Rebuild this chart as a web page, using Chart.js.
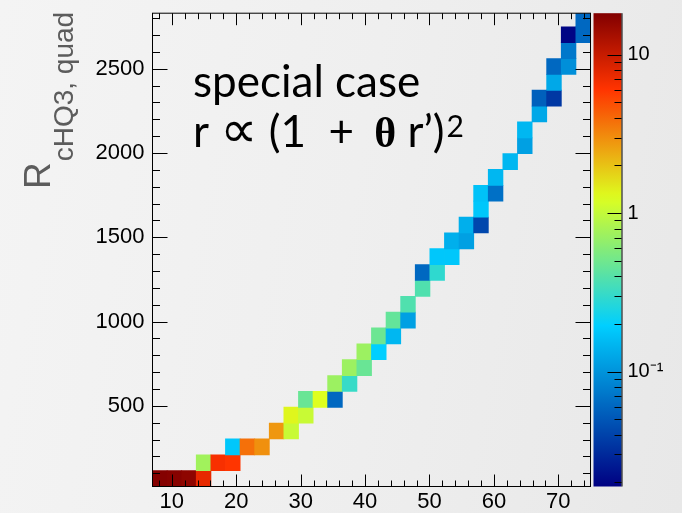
<!DOCTYPE html>
<html><head><meta charset="utf-8">
<script src="https://cdn.jsdelivr.net/npm/chart.js@4.4.0/dist/chart.umd.min.js"></script>
<style>
html,body{margin:0;padding:0;width:682px;height:513px;overflow:hidden;
background:linear-gradient(100deg,#f4f4f4 0%,#efefef 50%,#e8e8e8 100%);}
canvas{display:block;}
</style></head><body>
<canvas id="c" width="682" height="513"></canvas>
<script>
// ---- axis ranges / binning ----
const xMin = 7, xMax = 75, nBinsX = 30;
const yMin = 22, yMax = 2829, yBinWidth = 94;
const zMin = 0.0188, zMax = 18.3;

// ---- tick labels ----
const xTickLabels = [10, 20, 30, 40, 50, 60, 70];
const yTickLabels = [500, 1000, 1500, 2000, 2500];
const zTickLabels = [0.1, 1, 10];

// ---- filled cells: x-bin index, y-bin index, content ----
const cellCol = [0, 1, 2, 3,  3, 4, 5,  5, 6, 7,  8, 9,  9, 10,  10, 11, 12,  12, 13,  13, 14,  14, 15,
                 15, 16,  16, 17,  17,  18,  18, 19,  19, 20,  20, 21,  21, 22,  22,  22, 23,  23,  24,  25,  25,
                 26,  26, 27,  27,  27, 28,  28,  28, 29,  29];
const cellRow = [0, 0, 0, 0,  1, 1, 1,  2, 2, 2,  3, 3,  4, 4,  5, 5, 5,  6, 6,  7, 7,  8, 8,
                 9, 9,  10, 10,  11,  12,  13, 13,  14, 14,  15, 15,  16, 16,  17,  18, 18,  19,  20,  21,  22,
                 23,  24, 24,  25,  26, 26,  27,  28, 28,  29];
const cellZ   = [18, 17.5, 16.5, 7.5,  0.75, 6.5, 6.0,  0.18, 3.8, 2.95,  2.8, 1.04,  1.34, 1.04,  0.47, 1.25, 0.061,
                 0.72, 0.31,  0.72, 0.47,  0.72, 0.195,  0.48, 0.15,  0.45, 0.115,  0.38,  0.38,  0.061, 0.29,
                 0.18, 0.18,  0.137, 0.115,  0.137, 0.042,  0.18,  0.17, 0.067,  0.15,  0.15,  0.115,  0.15,
                 0.126,  0.056, 0.035,  0.126,  0.061, 0.095,  0.073,  0.02, 0.061,  0.061];

// ---- colour palette (ROOT rainbow-like) ----
const palStops = [0.00, 0.34, 0.61, 0.84, 1.00];
const palR = [0.00, 0.00, 0.87, 1.00, 0.51];
const palG = [0.00, 0.81, 1.00, 0.20, 0.00];
const palB = [0.51, 1.00, 0.12, 0.00, 0.00];

function palColor(t) {
  t = Math.max(0, Math.min(1, t));
  let i = 0;
  while (i < palStops.length - 2 && t > palStops[i + 1]) i++;
  const f = (t - palStops[i]) / (palStops[i + 1] - palStops[i]);
  const c = a => Math.round(255 * (a[i] + f * (a[i + 1] - a[i])));
  return `rgb(${c(palR)},${c(palG)},${c(palB)})`;
}
function zColor(z) {
  const t = (Math.log10(z) - Math.log10(zMin)) / (Math.log10(zMax) - Math.log10(zMin));
  return palColor(t);
}

const xBinWidth = (xMax - xMin) / nBinsX;
const cellData = cellCol.map((c, k) => ({
  x: xMin + (c + 0.5) * xBinWidth,
  y: [yMin + cellRow[k] * yBinWidth, yMin + (cellRow[k] + 1) * yBinWidth]
}));
const cellColors = cellZ.map(zColor);

const FONT = '"Liberation Sans", Arial, sans-serif';

const decor = {
  id: 'decor',
  afterDatasetsDraw(chart) {
    const ctx = chart.ctx;
    const a = chart.chartArea;
    const xs = chart.scales.x, ys = chart.scales.y, zs = chart.scales.z;
    ctx.save();
    ctx.strokeStyle = '#000';
    ctx.lineWidth = 1;
    // x ticks (bottom & top, inward)
    ctx.beginPath();
    for (let v = 8; v <= xMax; v += 2) {
      const px = Math.round(xs.getPixelForValue(v)) + 0.5;
      const major = v % 10 === 0;
      const L = major ? 12 : 6;
      ctx.moveTo(px, a.bottom); ctx.lineTo(px, a.bottom - L);
      ctx.moveTo(px, a.top); ctx.lineTo(px, a.top + L);
    }
    // y ticks (left & right, inward)
    for (let v = 100; v <= yMax; v += 100) {
      const py = Math.round(ys.getPixelForValue(v)) + 0.5;
      const major = v % 500 === 0;
      const L = major ? 15 : 7.5;
      ctx.moveTo(a.left, py); ctx.lineTo(a.left + L, py);
      ctx.moveTo(a.right, py); ctx.lineTo(a.right - L, py);
    }
    ctx.stroke();
    // frame
    ctx.strokeRect(a.left, a.top, a.right - a.left, a.bottom - a.top);

    // colour bar
    const bx0 = a.right + 3, bx1 = a.right + 31;
    const g = ctx.createLinearGradient(0, zs.bottom, 0, zs.top);
    for (let t = 0; t <= 1.0001; t += 0.02) g.addColorStop(Math.min(1, t), palColor(t));
    ctx.fillStyle = g;
    ctx.fillRect(bx0, zs.top, bx1 - bx0, zs.bottom - zs.top);
    ctx.beginPath();
    ctx.moveTo(bx1 + 0.5, zs.top); ctx.lineTo(bx1 + 0.5, zs.bottom);
    for (let e = -2; e <= 1; e++) {
      for (let m = 1; m <= 9; m++) {
        const v = m * Math.pow(10, e);
        if (v < zMin || v > zMax) continue;
        const py = Math.round(zs.getPixelForValue(v)) + 0.5;
        const L = m === 1 ? 14 : 7;
        ctx.moveTo(bx1, py); ctx.lineTo(bx1 - L, py);
      }
    }
    ctx.stroke();

    // annotation text
    ctx.fillStyle = '#000';
    ctx.textBaseline = 'alphabetic';
    ctx.textAlign = 'left';
    const mainFont = '44px Lato, "DejaVu Sans", sans-serif';
    ctx.font = mainFont;
    ctx.fillText('special case', 193, 97);
    let x = 193; const yb = 147;
    const seg = (txt, font, dy) => { ctx.font = font; ctx.fillText(txt, x, yb + (dy || 0)); x += ctx.measureText(txt).width; };
    seg('r ', mainFont);
    seg('\u221D', '52px "DejaVu Sans", sans-serif');
    seg(' (1  + ', mainFont);
    x += 9;
    seg('\u03B8', 'bold 42px "Liberation Serif", serif');
    seg(' r\u2019)', mainFont);
    x += 2;
    seg('2', '30px Lato, sans-serif', -10);

    // y axis title (rotated)
    ctx.fillStyle = '#5c5c5c';
    ctx.save();
    ctx.translate(50, 189);
    ctx.rotate(-Math.PI / 2);
    ctx.font = '37px ' + FONT;
    ctx.fillText('R', 0, 0);
    const rw = ctx.measureText('R').width;
    ctx.font = '28px ' + FONT;
    ctx.fillText('cHQ3, quad', rw + 1, 23);
    ctx.restore();
    ctx.restore();
  }
};

new Chart(document.getElementById('c'), {
  type: 'bar',
  data: {
    datasets: [{
      data: cellData,
      backgroundColor: cellColors,
      borderWidth: 0,
      barPercentage: 1,
      categoryPercentage: 1,
      inflateAmount: 0.4,
      clip: 0
    }]
  },
  options: {
    responsive: false,
    animation: false,
    devicePixelRatio: 1,
    layout: { padding: { top: 12.5, left: 0, right: 0, bottom: 0 } },
    plugins: { legend: { display: false }, tooltip: { enabled: false } },
    scales: {
      x: {
        type: 'linear', min: xMin, max: xMax, offset: false,
        grid: { display: false, drawTicks: true, tickLength: 2 }, border: { display: false },
        afterBuildTicks: s => { s.ticks = xTickLabels.map(v => ({ value: v })); },
        afterFit: s => { s.height = 26.5; },
        ticks: { color: '#000', font: { family: FONT, size: 22 }, padding: 0, maxRotation: 0, autoSkip: false,
                 callback: v => String(v) }
      },
      y: {
        type: 'linear', min: yMin, max: yMax,
        grid: { display: false, drawTicks: true, tickLength: 8 }, border: { display: false },
        afterBuildTicks: s => { s.ticks = yTickLabels.map(v => ({ value: v })); },
        afterFit: s => { s.width = 152.5; },
        ticks: { color: '#000', font: { family: FONT, size: 22 }, padding: 0, autoSkip: false,
                 callback: v => String(v) }
      },
      z: {
        type: 'logarithmic', position: 'right', min: zMin, max: zMax,
        grid: { display: false, drawTicks: true, tickLength: 37 }, border: { display: false },
        afterBuildTicks: s => { s.ticks = zTickLabels.map(v => ({ value: v })); },
        afterFit: s => { s.width = 91.5; },
        ticks: {
          color: '#000', font: { family: FONT, size: 20 }, padding: 0, autoSkip: false,
          callback: v => (v === 0.1 ? '10\u207B\u00B9' : String(v))
        }
      }
    }
  },
  plugins: [decor]
});
</script>
</body></html>
